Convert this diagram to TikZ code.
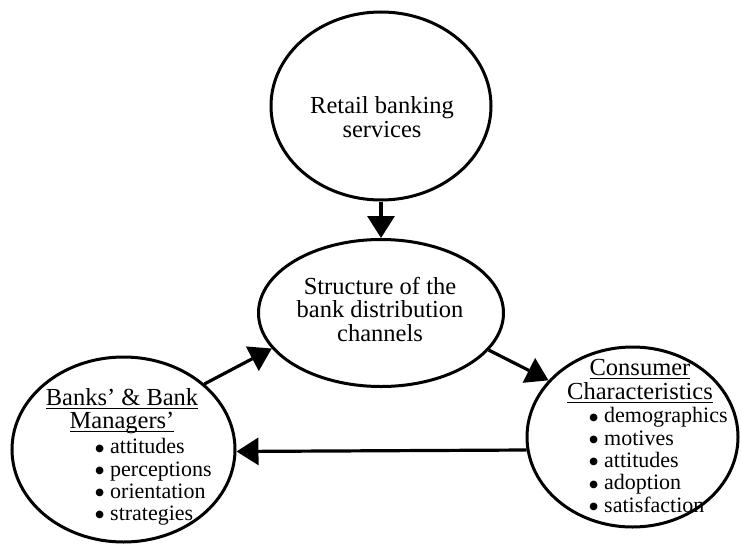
\documentclass[tikz,border=0pt]{standalone}
\usepackage{fontspec}
\setmainfont{Liberation Serif}
\usepackage{graphicx}
\usetikzlibrary{arrows.meta,shapes.geometric}
\newcommand\bul{\makebox[16pt][l]{\raisebox{-5.2pt}[0pt][0pt]{\scalebox{1.45}{\textbullet}}}}
\newcommand\myul[1]{\setbox0\hbox{#1}\rlap{\rule[-3.5pt]{\wd0}{1pt}}\box0}
\begin{document}
\begin{tikzpicture}[x=1pt,y=-1pt,
  ell/.style={draw, ellipse, line width=3pt, inner sep=0pt},
  arr/.style={line width=3.2pt, -{Triangle[length=22pt,width=27pt]}},
  txt/.style={align=center, font=\fontsize{24.5}{23.5}\selectfont, inner sep=0pt},
  lst/.style={align=left, font=\fontsize{22}{22.3}\selectfont, inner sep=0pt, anchor=west}]
\useasboundingbox (0,0) rectangle (741,546);
\node[ell, minimum width=220pt, minimum height=188pt] (top) at (381,106) {};
\node[ell, minimum width=245pt, minimum height=147pt] (mid) at (381,313) {};
\node[ell, minimum width=223pt, minimum height=185pt] (left) at (123.5,449.5) {};
\node[ell, minimum width=211pt, minimum height=180pt] (right) at (632.5,437) {};
\node[txt] (toptxt) at (382,117) {Retail banking\\services};
\node[txt] (midtxt) at (380,309) {Structure of the\\bank distribution\\channels};
\node[txt] (lefthead) at (122,411) {\myul{Banks’ \& Bank}\\\myul{Managers’}};
\node[lst] (leftlist) at (94,482) {\bul attitudes\\\bul perceptions\\\bul orientation\\\bul strategies};
\node[txt] (righthead) at (640,381) {\myul{Consumer}\\\myul{Characteristics}};
\node[lst] (rightlist) at (588,460) {\bul demographics\\\bul motives\\\bul attitudes\\\bul adoption\\\bul satisfaction};
\draw[arr] (top.south) -- (mid.north);
\draw[arr] (mid.-19.5) -- (right.146);
\draw[arr] (left.39.9) -- (mid.-162.4);
\draw[arr] (right.187) -- (left.-1);
\end{tikzpicture}
\end{document}
